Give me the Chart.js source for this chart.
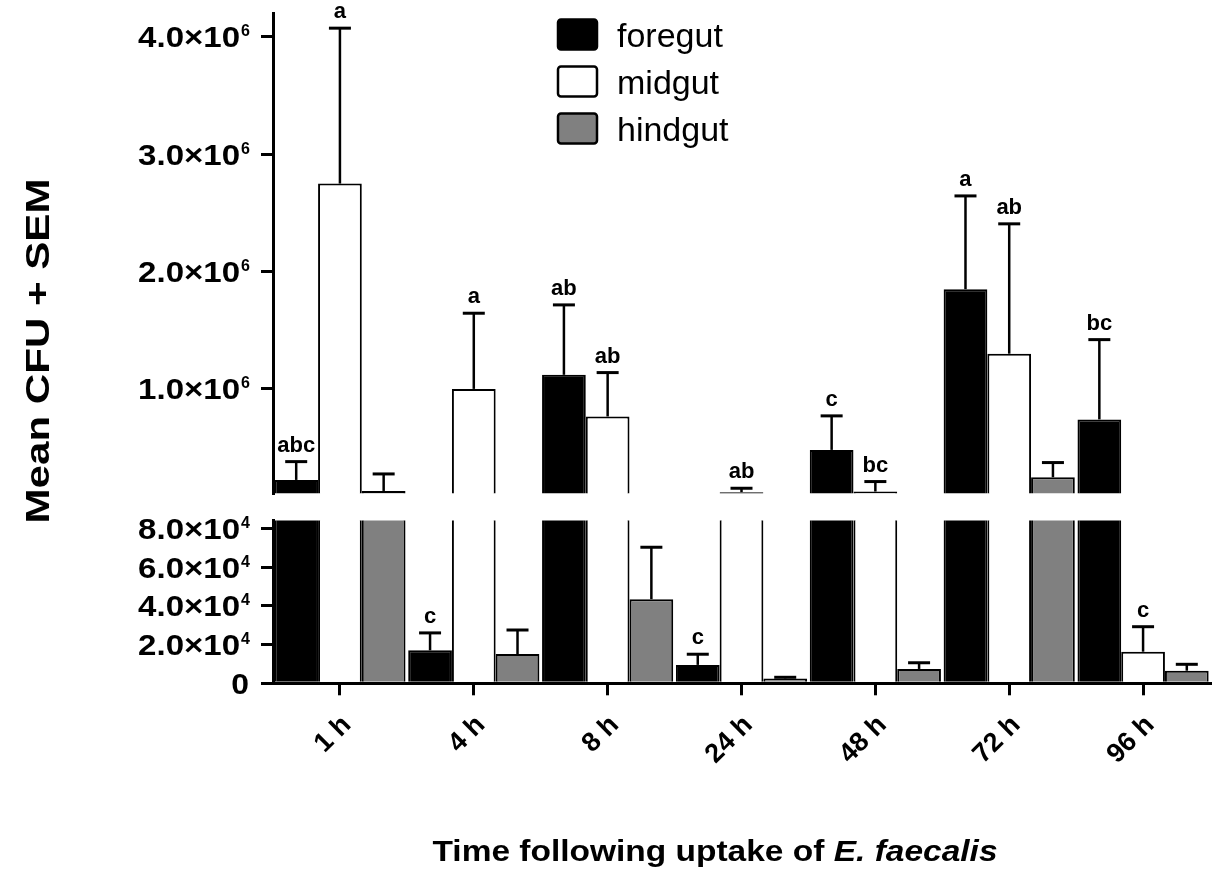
<!DOCTYPE html>
<html>
<head>
<meta charset="utf-8">
<script src="https://cdn.jsdelivr.net/npm/chart.js@4.4.1/dist/chart.umd.min.js"></script>
<style>
  html, body { margin: 0; padding: 0; background: #fff; overflow: hidden; }
  #wrap { position: relative; width: 1217px; height: 875px; overflow: hidden; background: #fff; }
  canvas { position: absolute; left: 0; }
  #topChart { top: -40px; }
  #botChart { top: 0; }
</style>
</head>
<body>
<div id="wrap">
  <canvas id="topChart" width="1257" height="915"></canvas>
  <canvas id="botChart" width="1257" height="875"></canvas>
</div>
<script>
// data (CFU means and SEM)
const times = ['1 h', '4 h', '8 h', '24 h', '48 h', '72 h', '96 h'];
const foregut = [224000, 17000, 1120000, 9500, 480000, 1850000, 740000];
const midgut = [2750000, 1000000, 765000, 120000, 125000, 1300000, 16300];
const hindgut = [130000, 15100, 43400, 2500, 7400, 247000, 6500];
const foregutSem = [156000, 9000, 596000, 5500, 290000, 795000, 680000];
const midgutSem = [1325000, 645000, 374000, 33000, 85000, 1107000, 12900];
const hindgutSem = [145000, 12400, 26800, 600, 3200, 125000, 3300];
const foregutLetters = ['abc', 'c', 'ab', 'c', 'c', 'a', 'bc'];
const midgutLetters = ['a', 'a', 'ab', 'ab', 'bc', 'ab', 'c'];
const hindgutLetters = ['', '', '', '', '', '', ''];
const topTicks = [1000000, 2000000, 3000000, 4000000];
const botTicks = [0, 20000, 40000, 60000, 80000];

const semSets = [foregutSem, midgutSem, hindgutSem];
const letterSets = [foregutLetters, midgutLetters, hindgutLetters];

const FONT = '"Liberation Sans", Arial, Helvetica, sans-serif';
Chart.defaults.font.family = FONT;
Chart.defaults.color = '#000';

// 4000000 -> ['4.0×10', '6']
function sciParts(v) {
  if (v === 0) return ['0', ''];
  const e = Math.floor(Math.log10(v) + 1e-9);
  return [(v / Math.pow(10, e)).toFixed(1) + '×10', String(e)];
}

function makeSets() {
  const base = { borderColor: '#000', borderWidth: 2, categoryPercentage: 0.98, barPercentage: 1.0 };
  return [
    Object.assign({ label: 'foregut', data: foregut.slice(), backgroundColor: '#000' }, base),
    Object.assign({ label: 'midgut', data: midgut.slice(), backgroundColor: '#fff' }, base),
    Object.assign({ label: 'hindgut', data: hindgut.slice(), backgroundColor: '#808080' }, base)
  ];
}

// error bars + significance letters
const errPlugin = {
  id: 'errbars',
  afterDatasetsDraw(chart) {
    const ctx = chart.ctx, y = chart.scales.y;
    ctx.save();
    chart.data.datasets.forEach((ds, i) => {
      const meta = chart.getDatasetMeta(i);
      meta.data.forEach((bar, j) => {
        const v = ds.data[j];
        if (v <= y.min || v >= y.max) return;
        const top = y.getPixelForValue(v + semSets[i][j]);
        ctx.strokeStyle = '#000';
        ctx.lineWidth = 2.5;
        ctx.beginPath(); ctx.moveTo(bar.x, bar.y); ctx.lineTo(bar.x, top); ctx.stroke();
        ctx.lineWidth = 3;
        ctx.beginPath(); ctx.moveTo(bar.x - 11, top); ctx.lineTo(bar.x + 11, top); ctx.stroke();
        const t = letterSets[i][j];
        if (t) {
          ctx.fillStyle = '#000';
          ctx.font = 'bold 22px ' + FONT;
          ctx.textAlign = 'center';
          ctx.textBaseline = 'alphabetic';
          ctx.fillText(t, bar.x, top - 10);
        }
      });
    });
    ctx.restore();
  }
};

// y tick labels with a real superscript exponent
const tickText = {
  id: 'ticktext',
  afterDraw(chart) {
    const sc = chart.scales.y, ctx = chart.ctx;
    ctx.save();
    ctx.fillStyle = '#000';
    ctx.textBaseline = 'alphabetic';
    ctx.textAlign = 'right';
    sc.ticks.forEach(t => {
      const py = sc.getPixelForValue(t.value);
      const [man, exp] = sciParts(t.value);
      const right = sc.right - 23;
      let we = 0;
      if (exp) {
        ctx.font = 'bold 16px ' + FONT;
        we = ctx.measureText(exp).width;
        ctx.fillText(exp, right, py - 0.5);
      }
      ctx.font = 'bold 29px ' + FONT;
      const wm = ctx.measureText(man).width;
      const sx = exp ? 102 / wm : 1.1;
      ctx.save();
      ctx.translate(right - we - 1, py + 10.5);
      ctx.scale(sx, 1);
      ctx.fillText(man, 0, 0);
      ctx.restore();
    });
    ctx.restore();
  }
};

// legend and axis titles for the whole figure
const pageText = {
  id: 'pagetext',
  afterDraw(chart) {
    const ctx = chart.ctx;
    ctx.save();
    chart.data.datasets.forEach((ds, i) => {
      const y0 = 19.5 + i * 47;
      ctx.fillStyle = ds.backgroundColor;
      ctx.strokeStyle = '#000';
      ctx.lineWidth = 2.5;
      ctx.beginPath();
      ctx.roundRect(558, y0, 39, 30, 3);
      ctx.fill(); ctx.stroke();
      ctx.fillStyle = '#000';
      ctx.font = '34px ' + FONT;
      ctx.textAlign = 'left';
      ctx.textBaseline = 'alphabetic';
      ctx.fillText(ds.label, 617, y0 + 27.5);
    });

    // x title, partly italic
    const a = 'Time following uptake of ', b = 'E. faecalis';
    ctx.font = 'bold 30px ' + FONT;
    const w1 = ctx.measureText(a).width;
    ctx.font = 'italic bold 30px ' + FONT;
    const w2 = ctx.measureText(b).width;
    const s = 565 / (w1 + w2);
    ctx.save();
    ctx.translate(715, 861);
    ctx.scale(s, 1);
    ctx.textAlign = 'left';
    ctx.fillStyle = '#000';
    ctx.font = 'bold 30px ' + FONT;
    ctx.fillText(a, -(w1 + w2) / 2, 0);
    ctx.font = 'italic bold 30px ' + FONT;
    ctx.fillText(b, -(w1 + w2) / 2 + w1, 0);
    ctx.restore();

    // y title
    const yt = 'Mean CFU + SEM';
    ctx.font = 'bold 34px ' + FONT;
    const wy = ctx.measureText(yt).width;
    ctx.save();
    ctx.translate(49, 351);
    ctx.rotate(-Math.PI / 2);
    ctx.scale(345 / wy, 1);
    ctx.textAlign = 'center';
    ctx.fillText(yt, 0, 0);
    ctx.restore();
    ctx.restore();
  }
};

function yAxis(min, max, ticks) {
  return {
    min: min, max: max,
    afterBuildTicks: sc => { sc.ticks = ticks.map(v => ({ value: v })); },
    afterFit: sc => { sc.width = 273; },
    border: { display: true, color: '#000', width: 3 },
    grid: { drawOnChartArea: false, color: '#000', lineWidth: 3, tickLength: 12 },
    ticks: { display: false }
  };
}

new Chart(document.getElementById('topChart'), {
  type: 'bar',
  data: { labels: times, datasets: makeSets() },
  options: {
    responsive: false, animation: false, devicePixelRatio: 1, events: [],
    layout: { padding: { top: 53.5, bottom: 381.7, left: 0, right: 47 } },
    plugins: { legend: { display: false }, tooltip: { enabled: false } },
    scales: {
      x: { display: false },
      y: yAxis(110000, 4200000, topTicks)
    }
  },
  plugins: [errPlugin, tickText]
});

new Chart(document.getElementById('botChart'), {
  type: 'bar',
  data: { labels: times, datasets: makeSets() },
  options: {
    responsive: false, animation: false, devicePixelRatio: 1, events: [],
    layout: { padding: { top: 520.5, bottom: 91.7, left: 0, right: 47 } },
    plugins: { legend: { display: false }, tooltip: { enabled: false } },
    scales: {
      x: {
        afterFit: sc => { sc.height = 100; },
        border: { display: true, color: '#000', width: 3 },
        grid: { drawOnChartArea: false, offset: false, color: '#000', lineWidth: 3, tickLength: 12 },
        ticks: { font: { size: 27, weight: 'bold' }, minRotation: 45, maxRotation: 45, autoSkip: false, padding: 14, labelOffset: 7, color: '#000' }
      },
      y: yAxis(0, 84000, botTicks)
    }
  },
  plugins: [errPlugin, tickText, pageText]
});
</script>
</body>
</html>
